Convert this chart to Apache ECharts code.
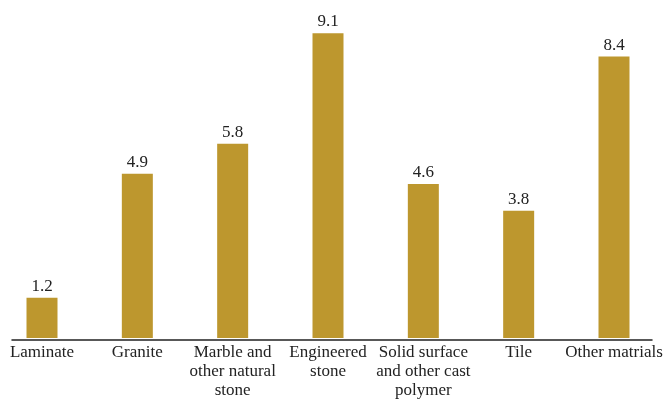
<!DOCTYPE html>
<html>
<head>
<meta charset="utf-8">
<script src="https://cdn.jsdelivr.net/npm/echarts@6/dist/echarts.min.js"></script>
<style>
  html, body { margin: 0; padding: 0; background: #fff; }
  #chart { width: 669px; height: 400px; }
</style>
</head>
<body>
<div id="chart"></div>
<script>
// chart data
var categories = ['Laminate', 'Granite', 'Marble and\nother natural\nstone', 'Engineered\nstone',
  'Solid surface\nand other cast\npolymer', 'Tile', 'Other matrials'];
var values = [1.2, 4.9, 5.8, 9.1, 4.6, 3.8, 8.4];

var barColor = '#BD972E';
var textFont = '"Liberation Serif", "DejaVu Serif", serif';

var myChart = echarts.init(document.getElementById('chart'));

// grid 0 holds the bars, grid 1 only draws the baseline (wider than the bars)
var option = {
  animation: false,
  grid: [
    { left: 42, right: 55, top: 3, bottom: 60, containLabel: false },
    { left: 12, right: 17, top: 3, bottom: 60, containLabel: false }
  ],
  xAxis: [{
    type: 'category',
    gridIndex: 0,
    data: categories,
    boundaryGap: false,
    axisLine: { show: false },
    axisTick: { show: false },
    axisLabel: {
      interval: 0,
      margin: 5,
      color: '#222',
      fontFamily: textFont,
      fontSize: 17,
      lineHeight: 19
    }
  }, {
    type: 'category',
    gridIndex: 1,
    data: [''],
    axisLine: { show: true, lineStyle: { color: '#222', width: 1.5 } },
    axisTick: { show: false },
    axisLabel: { show: false }
  }],
  yAxis: [{
    type: 'value',
    gridIndex: 0,
    min: 0,
    max: 10,
    show: false
  }, {
    type: 'value',
    gridIndex: 1,
    min: 0,
    max: 10,
    show: false
  }],
  series: [{
    type: 'bar',
    xAxisIndex: 0,
    yAxisIndex: 0,
    data: values,
    barWidth: 31,
    itemStyle: { color: barColor },
    label: {
      show: true,
      position: 'top',
      distance: 3,
      color: '#222',
      fontFamily: textFont,
      fontSize: 17,
      formatter: function (p) { return p.value.toFixed(1); }
    }
  }]
};

myChart.setOption(option);
</script>
</body>
</html>
